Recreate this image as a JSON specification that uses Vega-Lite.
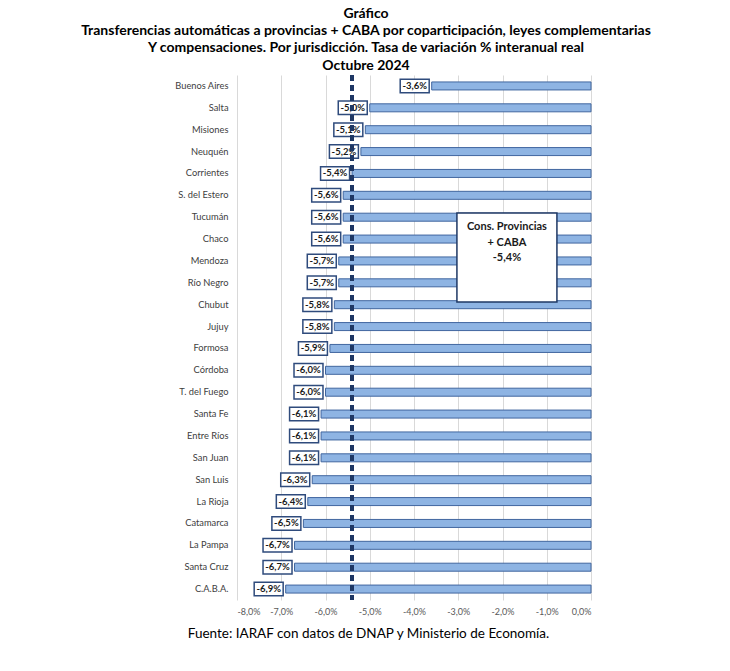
{
  "$schema": "https://vega.github.io/schema/vega-lite/v6.json",
  "width": 354,
  "height": 525,
  "autosize": {"type": "none"},
  "padding": {"top": 75, "left": 237, "right": 139, "bottom": 71},
  "background": "white",
  "config": {
    "view": {"stroke": null},
    "font": "Lato"
  },
  "title": {
    "text": ["Gráfico", "Transferencias automáticas a provincias + CABA por coparticipación, leyes complementarias", "Y compensaciones. Por jurisdicción. Tasa de variación % interanual real", "Octubre 2024"],
    "font": "Lato",
    "fontSize": 14,
    "fontWeight": "bold",
    "color": "#000000",
    "lineHeight": 17.3,
    "anchor": "middle",
    "frame": "group",
    "dx": -48,
    "offset": 1
  },
  "data": {
    "values": [
      {"j": "Buenos Aires", "v": -3.6},
      {"j": "Salta", "v": -5.0},
      {"j": "Misiones", "v": -5.1},
      {"j": "Neuquén", "v": -5.2},
      {"j": "Corrientes", "v": -5.4},
      {"j": "S. del Estero", "v": -5.6},
      {"j": "Tucumán", "v": -5.6},
      {"j": "Chaco", "v": -5.6},
      {"j": "Mendoza", "v": -5.7},
      {"j": "Río Negro", "v": -5.7},
      {"j": "Chubut", "v": -5.8},
      {"j": "Jujuy", "v": -5.8},
      {"j": "Formosa", "v": -5.9},
      {"j": "Córdoba", "v": -6.0},
      {"j": "T. del Fuego", "v": -6.0},
      {"j": "Santa Fe", "v": -6.1},
      {"j": "Entre Ríos", "v": -6.1},
      {"j": "San Juan", "v": -6.1},
      {"j": "San Luis", "v": -6.3},
      {"j": "La Rioja", "v": -6.4},
      {"j": "Catamarca", "v": -6.5},
      {"j": "La Pampa", "v": -6.7},
      {"j": "Santa Cruz", "v": -6.7},
      {"j": "C.A.B.A.", "v": -6.9}
    ]
  },
  "transform": [
    {"calculate": "replace(replace(format(datum.v, '.1f'), '.', ','), '\u2212', '-') + '%'", "as": "lbl"}
  ],
  "layer": [
    {
      "mark": {"type": "bar", "size": 8, "fill": "#8EB4E3", "stroke": "#41669F", "strokeWidth": 1},
      "encoding": {
        "y": {
          "field": "j",
          "type": "nominal",
          "sort": null,
          "scale": {
            "domain": ["Buenos Aires", "Salta", "Misiones", "Neuquén", "Corrientes", "S. del Estero", "Tucumán", "Chaco", "Mendoza", "Río Negro", "Chubut", "Jujuy", "Formosa", "Córdoba", "T. del Fuego", "Santa Fe", "Entre Ríos", "San Juan", "San Luis", "La Rioja", "Catamarca", "La Pampa", "Santa Cruz", "C.A.B.A."],
            "paddingInner": 0,
            "paddingOuter": 0
          },
          "axis": {
            "title": null,
            "domain": false,
            "ticks": false,
            "labelFont": "Lato",
            "labelFontSize": 9.3,
            "labelColor": "#404040",
            "labelPadding": 9
          }
        },
        "x": {
          "field": "v",
          "type": "quantitative",
          "scale": {"domain": [-8, 0], "nice": false, "zero": false},
          "axis": {
            "values": [-8, -7, -6, -5, -4, -3, -2, -1, 0],
            "labelExpr": "replace(replace(format(datum.value, '.1f'), '.', ','), '\u2212', '-') + '%'",
            "grid": true,
            "gridColor": "#D9D9D9",
            "gridWidth": 1,
            "domain": false,
            "ticks": false,
            "labelFont": "Lato",
            "labelFontSize": 9,
            "labelColor": "#595959",
            "labelPadding": 7,
            "title": "Fuente: IARAF con datos de DNAP y Ministerio de Economía.",
            "titleFont": "Lato",
            "titleFontSize": 13.5,
            "titleFontWeight": "normal",
            "titleColor": "#000000",
            "titleX": 131,
            "titleY": 33,
            "titleAlign": "center",
            "titleBaseline": "middle"
          }
        }
      }
    },
    {
      "mark": {"type": "point", "shape": "M-1,-0.47H1V0.47H-1Z", "size": 840, "filled": true, "fill": "white", "stroke": "#2F4B7C", "strokeWidth": 1.5, "opacity": 1, "xOffset": -17},
      "encoding": {
        "y": {"field": "j", "type": "nominal", "sort": null},
        "x": {"field": "v", "type": "quantitative"}
      }
    },
    {
      "mark": {"type": "text", "font": "Lato", "fontSize": 9.5, "fontWeight": "bold", "color": "#1a1a1a", "align": "center", "baseline": "middle", "dx": -17},
      "encoding": {
        "y": {"field": "j", "type": "nominal", "sort": null},
        "x": {"field": "v", "type": "quantitative"},
        "text": {"field": "lbl"}
      }
    },
    {
      "mark": {"type": "rule", "stroke": "#1F3864", "strokeWidth": 2.5, "strokeDash": [6, 4]},
      "encoding": {"x": {"datum": -5.4, "type": "quantitative"}}
    },
    {
      "data": {"values": [{"j": "Mendoza", "v": -1.9}]},
      "mark": {"type": "point", "shape": "M-1,-0.89H1V0.89H-1Z", "size": 10000, "filled": true, "fill": "white", "stroke": "#1F3864", "strokeWidth": 1.5, "opacity": 1, "yOffset": -3.5},
      "encoding": {
        "y": {"field": "j", "type": "nominal", "sort": null},
        "x": {"field": "v", "type": "quantitative"}
      }
    },
    {
      "data": {"values": [{"j": "Tucumán", "v": -1.9}]},
      "mark": {"type": "text", "font": "Lato", "fontSize": 11, "fontWeight": "bold", "color": "#1a1a1a", "align": "center", "baseline": "top", "dy": 4, "lineHeight": 15.5},
      "encoding": {
        "y": {"field": "j", "type": "nominal", "sort": null},
        "x": {"field": "v", "type": "quantitative"},
        "text": {"value": ["Cons. Provincias", "+ CABA", "-5,4%"]}
      }
    }
  ]
}
